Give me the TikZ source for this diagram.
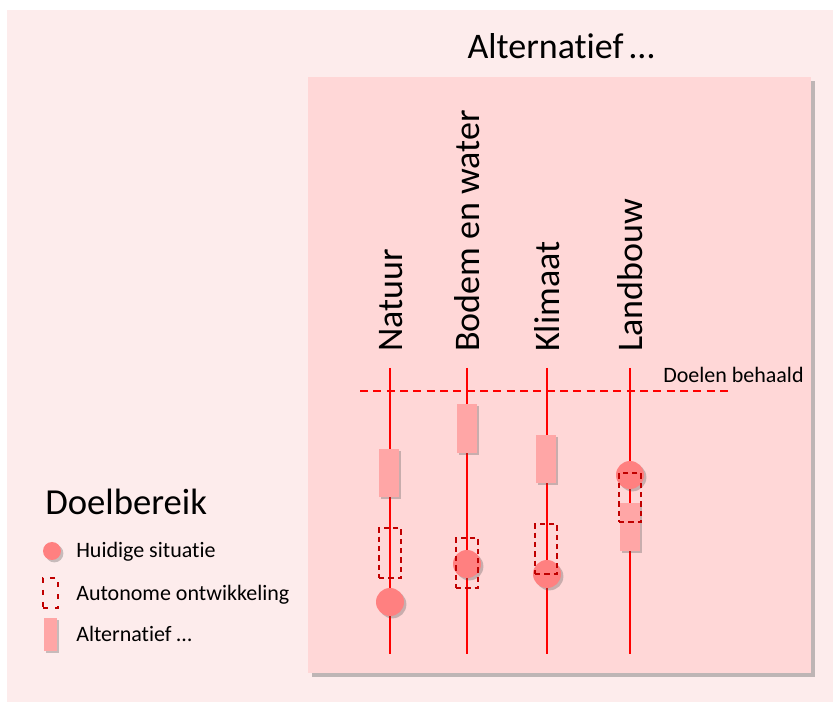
\documentclass[tikz,border=0pt]{standalone}
\usepackage{fontspec}
\setmainfont{Carlito}[Ligatures=NoCommon]
\usetikzlibrary{shadows}

\definecolor{outerbg}{RGB}{253,236,236}
\definecolor{innerbg}{RGB}{255,215,215}
\definecolor{nowfill}{RGB}{255,128,128}
\definecolor{altfill}{RGB}{255,166,166}
\definecolor{autored}{RGB}{192,0,0}

\begin{document}
\begin{tikzpicture}[x=0.75pt,y=-0.75pt,
  softshadow/.style={drop shadow={shadow xshift=1.8pt,shadow yshift=-1.8pt,opacity=.3,fill=black!70}},
  boxshadow/.style={drop shadow={shadow xshift=3pt,shadow yshift=-3pt,opacity=.45,fill=black!55}},
  axisline/.style={red,line width=1.3pt},
  goalline/.style={red,line width=1.1pt,dash pattern=on 6pt off 4pt},
  nowdot/.style={circle,fill=nowfill,inner sep=0pt,minimum size=21pt,softshadow},
  altbar/.style={rectangle,fill=altfill,inner sep=0pt,minimum width=15pt,softshadow},
  autobox/.style={rectangle,draw=autored,line width=1.4pt,dash pattern=on 4pt off 3pt,inner sep=0pt,minimum width=16.5pt},
  collabel/.style={rotate=90,anchor=base west,inner sep=0pt,font=\fontsize{27}{32}\selectfont},
  legendtext/.style={anchor=base west,inner sep=0pt,font=\fontsize{16.5}{20}\selectfont}]
\useasboundingbox (0,0) rectangle (833,702);
% backgrounds
\fill[outerbg] (7,10) rectangle (833,702);
\fill[innerbg,boxshadow] (308,77) rectangle (811,673);
\node[anchor=base,inner sep=0pt,font=\fontsize{27}{32}\selectfont] (title) at (561,59) {Alternatief\,…};
% column titles
\node[collabel] (natLabel) at (402,352) {Natuur};
\node[collabel] (bodLabel) at (479,352) {Bodem en water};
\node[collabel] (kliLabel) at (559,352) {Klimaat};
\node[collabel] (lanLabel) at (642,352) {Landbouw};
% axes
\coordinate (natTop) at (390,368); \coordinate (natBot) at (390,654);
\coordinate (bodTop) at (467,368); \coordinate (bodBot) at (467,654);
\coordinate (kliTop) at (547,368); \coordinate (kliBot) at (547,654);
\coordinate (lanTop) at (630,368); \coordinate (lanBot) at (630,654);
\draw[axisline] (natTop) -- (natBot);
\draw[axisline] (bodTop) -- (bodBot);
\draw[axisline] (kliTop) -- (kliBot);
\draw[axisline] (lanTop) -- (lanBot);
% goals reached
\coordinate (goalL) at (360,391); \coordinate (goalR) at (732,391);
\draw[goalline] (goalL) -- (goalR);
\node[legendtext] (goalText) at (663,383) {Doelen behaald};
% alternative
\node[altbar,minimum height=36pt] (natAlt) at (389,473) {};
\node[altbar,minimum height=36.75pt] (bodAlt) at (467,428.5) {};
\node[altbar,minimum height=36pt] (kliAlt) at (546,459) {};
\node[altbar,minimum height=36pt] (lanAlt) at (630,527) {};
% current situation
\node[nowdot] (natNow) at (390,602) {};
\node[nowdot] (bodNow) at (467,564) {};
\node[nowdot] (kliNow) at (547,574) {};
\node[nowdot] (lanNow) at (630,475) {};
% autonomous development
\node[autobox,minimum height=37.5pt] (natAuto) at (390,553) {};
\node[autobox,minimum height=37.5pt] (bodAuto) at (467,563) {};
\node[autobox,minimum height=37.5pt] (kliAuto) at (546,549) {};
\node[autobox,minimum height=36.75pt] (lanAuto) at (630,497.5) {};
% legend
\node[anchor=base west,inner sep=0pt,font=\fontsize{27.5}{32}\selectfont] (legTitle) at (45,515) {Doelbereik};
\node[nowdot,minimum size=13.5pt] (legNow) at (52,551) {};
\node[legendtext] (legNowText) at (76,558) {Huidige situatie};
\node[autobox,minimum width=11.25pt,minimum height=22.5pt,line width=1.2pt,dash pattern=on 4pt off 5pt] (legAuto) at (50.5,593) {};
\node[legendtext] (legAutoText) at (76,600) {Autonome ontwikkeling};
\node[altbar,minimum width=9.75pt,minimum height=24.75pt] (legAlt) at (50.5,634.5) {};
\node[legendtext] (legAltText) at (76,642) {Alternatief …};
\end{tikzpicture}
\end{document}
